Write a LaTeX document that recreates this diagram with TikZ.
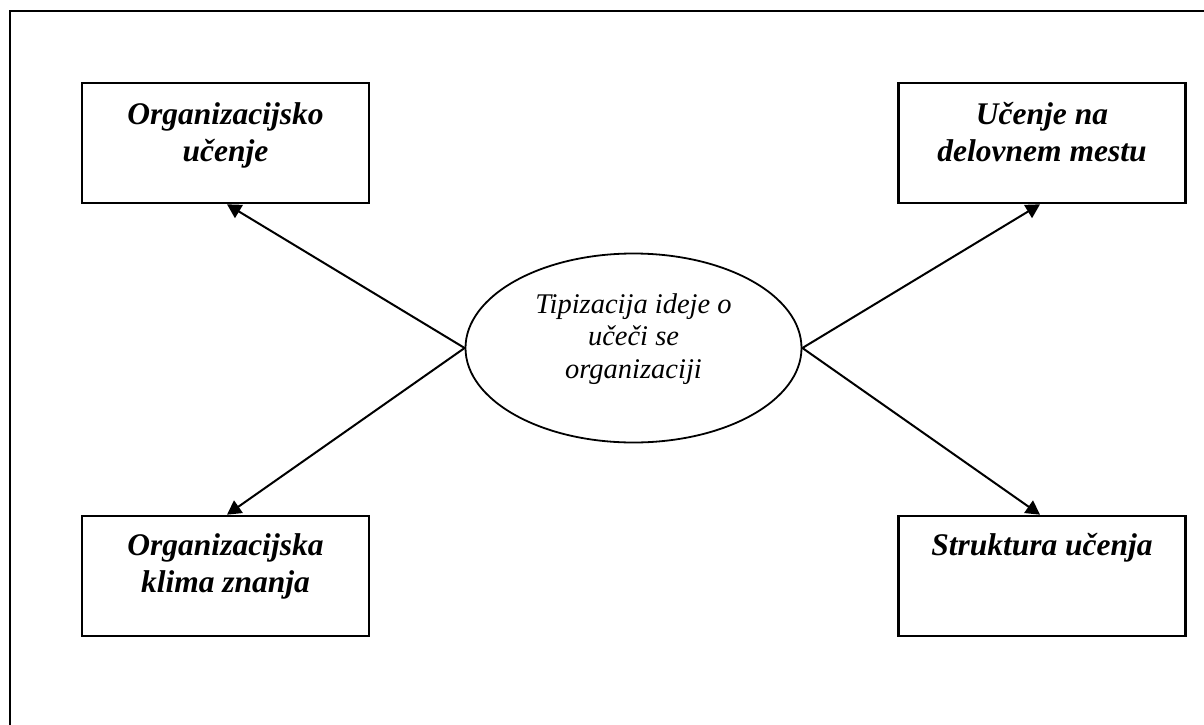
\documentclass[tikz,border=0pt]{standalone}
\usepackage{fontspec}
\setmainfont{Liberation Serif}
\usetikzlibrary{arrows.meta,shapes.geometric}
\begin{document}
\begin{tikzpicture}[x=1pt,y=-1pt,
  topicbox/.style={draw, line width=2.6pt, minimum width=287pt, minimum height=120pt, inner sep=0pt},
  boxtext/.style={anchor=north, align=center, inner sep=0pt,
    font=\fontsize{31.5}{37}\selectfont\bfseries\itshape},
  coretext/.style={anchor=north, align=center, inner sep=0pt,
    font=\fontsize{28.5}{32.5}\selectfont\itshape},
  link/.style={line width=2pt, -{Triangle[length=14pt,width=15pt]}},
]
\useasboundingbox (0,0) rectangle (1204,725);
% outer frame, running past the right and bottom page edges
\begin{scope}
  \clip (0,0) rectangle (1204,725);
  \draw[line width=2pt] (9.5,11.5) rectangle (1240,760);
\end{scope}

% central idea
\node[draw, ellipse, line width=1.8pt, minimum width=336pt, minimum height=189pt, inner sep=0pt]
  (core) at (633.5,348) {};
\node[coretext] (coretxt) at (633.5,288) {\rule{0pt}{25pt}Tipizacija ideje o\\učeči se\\organizaciji};

% four surrounding topics
\node[topicbox] (tl) at (225.5,143) {};
\node[boxtext] (tltxt) at (225.5,94) {\rule{0pt}{30pt}Organizacijsko\\učenje};

\node[topicbox] (tr) at (1042,143) {};
\node[boxtext] (trtxt) at (1042,94) {\rule{0pt}{30pt}Učenje na\\delovnem mestu};

\node[topicbox] (bl) at (225.5,576) {};
\node[boxtext] (bltxt) at (225.5,525) {\rule{0pt}{30pt}Organizacijska\\klima znanja};

\node[topicbox] (br) at (1042,576) {};
\node[boxtext] (brtxt) at (1042,525) {\rule{0pt}{30pt}Struktura učenja};

% connectors from the central idea
\draw[link] (core.west) -- ([xshift=1.5pt]tl.south);
\draw[link] (core.west) -- ([xshift=1.5pt]bl.north);
\draw[link] (core.east) -- ([xshift=-2pt]tr.south);
\draw[link] (core.east) -- ([xshift=-2pt]br.north);
\end{tikzpicture}
\end{document}
